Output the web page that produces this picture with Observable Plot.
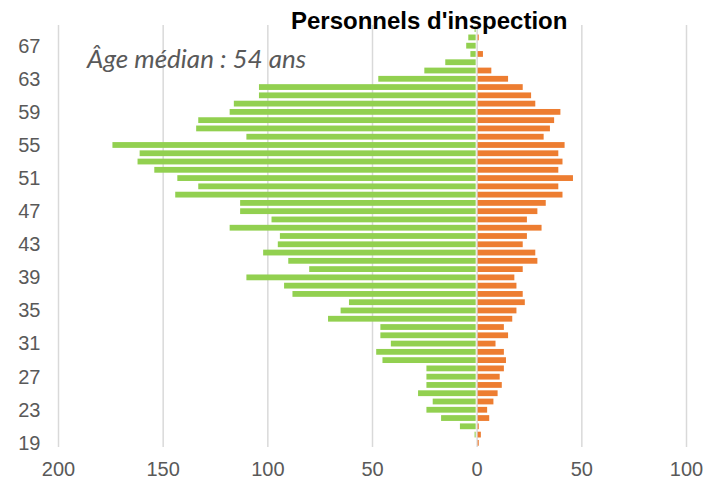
<!DOCTYPE html>
<html>
<head>
<meta charset="utf-8">
<script src="https://cdn.jsdelivr.net/npm/d3@7"></script>
<script src="https://cdn.jsdelivr.net/npm/@observablehq/plot@0.6"></script>
<style>
  html, body { margin: 0; padding: 0; background: #ffffff; }
  #wrap { position: relative; width: 705px; height: 490px; }
  #title { position: absolute; left: 291px; top: 9px; font: bold 24px "Liberation Sans", Arial, sans-serif; color: #000; line-height: 1; white-space: nowrap; }
  #note { position: absolute; left: 87px; top: 45px; font: italic 26px Lato, "Open Sans", sans-serif; color: #595959; line-height: 1; white-space: nowrap; }
</style>
</head>
<body>
<div id="wrap">
  <div id="chart"></div>
  <div id="title">Personnels d'inspection</div>
  <div id="note">Âge médian : 54 ans</div>
</div>
<script>
// Ages (categories), bottom to top
const ages = [19,20,21,22,23,24,25,26,27,28,29,30,31,32,33,34,35,36,37,38,39,40,41,42,43,44,45,46,47,48,49,50,51,52,53,54,55,56,57,58,59,60,61,62,63,64,65,66,67,68,69];
// Green series (drawn to the left)
const greenValues = [0,1,8,17,24,21,28,24,24,24,45,48,41,46,46,71,65,61,88,92,110,80,90,102,95,94,118,98,113,113,144,133,143,154,162,161,174,110,134,133,118,116,104,104,47,25,15,3,5,4,1];
// Orange series (drawn to the right)
const orangeValues = [1,2,1,6,5,8,10,12,11,13,14,13,9,15,13,17,19,23,22,19,18,22,29,28,22,24,31,24,29,33,41,39,46,39,41,39,42,32,35,37,40,28,26,22,15,7,0,3,0,1,0];
// Tick labels
const xTicks = [-200,-150,-100,-50,0,50,100];
const yTicks = [19,23,27,31,35,39,43,47,51,55,59,63,67];

const rows = ages.map((a, i) => ({age: a, green: greenValues[i], orange: orangeValues[i]}));
const ageDomain = ages.slice().reverse();

const chart = Plot.plot({
  width: 705,
  height: 490,
  marginLeft: 58,
  marginRight: 19,
  marginTop: 25,
  marginBottom: 43,
  style: {fontFamily: "'Liberation Sans', Arial, sans-serif", fontSize: "20px", color: "#595959", background: "#ffffff"},
  x: {domain: [-200, 100], label: null},
  y: {domain: ageDomain, paddingInner: 0.3, paddingOuter: 0.15, round: false, label: null},
  marks: [
    Plot.gridX(xTicks, {stroke: "#d9d9d9", strokeOpacity: 1, strokeWidth: 1.5}),
    Plot.barX(rows, {x1: 0, x2: d => -d.green, y: "age", fill: "#92D050", insetRight: 1}),
    Plot.barX(rows, {x1: 0, x2: "orange", y: "age", fill: "#ED7D31", insetLeft: 1}),
    Plot.axisX(xTicks, {tickSize: 0, tickPadding: 14, tickFormat: d => Math.abs(d), fill: "#595959", fontSize: 20}),
    Plot.axisY(yTicks, {tickSize: 0, tickPadding: 18, fill: "#595959", fontSize: 20})
  ]
});
document.getElementById("chart").appendChild(chart);
</script>
</body>
</html>
